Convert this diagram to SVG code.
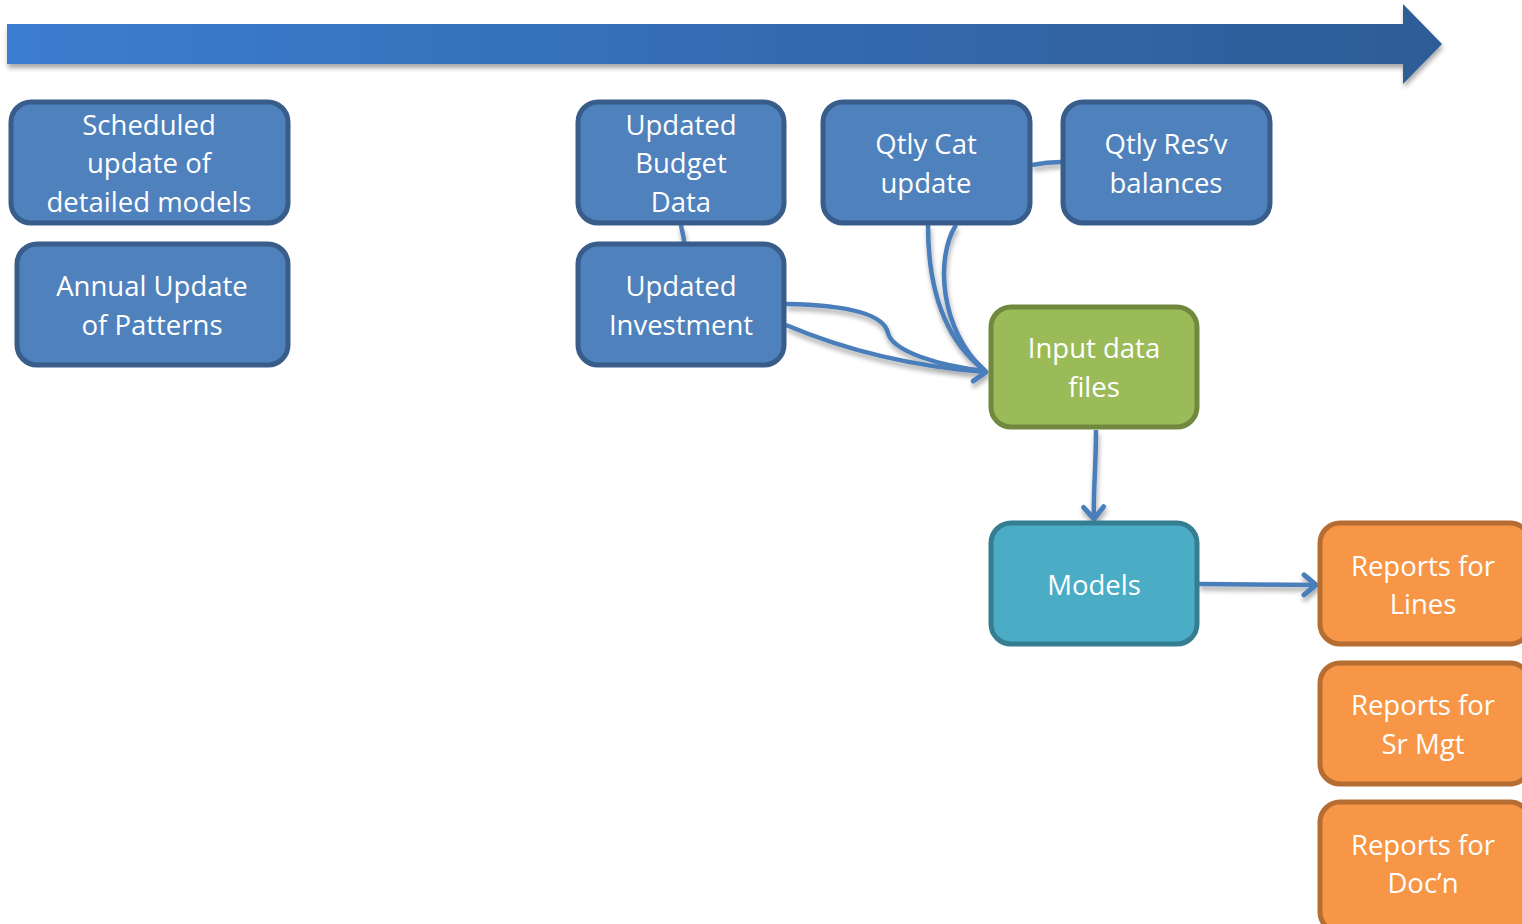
<svg xmlns="http://www.w3.org/2000/svg" width="1522" height="924" viewBox="0 0 1522 924">
<style>
.blue rect{fill:#4f81bd;stroke:#385d8a;stroke-width:5}
.green rect{fill:#9bbb59;stroke:#71893f;stroke-width:5}
.teal rect{fill:#4bacc6;stroke:#357d91;stroke-width:5}
.orange rect{fill:#f79646;stroke:#b66d31;stroke-width:5}
text{font-family:"Open Sans","Liberation Sans",sans-serif;font-size:27.5px;fill:#ffffff;text-anchor:middle}
.conn path{fill:none;stroke:#4a7ebb;stroke-width:4.5}
</style>
<defs>
<linearGradient id="g" x1="0" y1="0" x2="1" y2="0">
<stop offset="0" stop-color="#3b7dd0"/>
<stop offset="1" stop-color="#2d5c96"/>
</linearGradient>
<filter id="sh" filterUnits="userSpaceOnUse" x="0" y="0" width="1522" height="924">
<feGaussianBlur in="SourceAlpha" stdDeviation="2.5"/>
<feOffset dx="1" dy="4" result="b"/>
<feComponentTransfer><feFuncA type="linear" slope="0.35"/></feComponentTransfer>
<feMerge><feMergeNode/><feMergeNode in="SourceGraphic"/></feMerge>
</filter>
<marker id="ah" markerWidth="30" markerHeight="30" refX="15" refY="12" orient="auto" markerUnits="userSpaceOnUse" viewBox="0 0 30 24">
<path d="M3,2 L15,12 L3,22" fill="none" stroke="#4a7ebb" stroke-width="5" stroke-linecap="round" stroke-linejoin="round"/>
</marker>
</defs>
<rect width="1522" height="924" fill="#ffffff"/>
<g id="timeline" filter="url(#sh)">
<path d="M7,24 L1403,24 L1403,4 L1442,44 L1403,84 L1403,64 L7,64 Z" fill="url(#g)"/>
</g>
<g class="conn" id="connectors" filter="url(#sh)">
<path d="M681,225 C682,232 684,236 684,242"/>
<path d="M1032,165 C1042,163 1050,162 1061,162"/>
<path d="M786,304 C850,305 884,315 888,333 C893,352 940,366 986,371"/>
<path d="M786,325 C840,348 905,366 986,372" marker-end="url(#ah)"/>
<path d="M928,225 C928,290 945,340 984,370"/>
<path d="M956,225 C935,258 940,330 984,370"/>
<path d="M1096,430 C1096,470 1093,490 1094,519" marker-end="url(#ah)"/>
<path d="M1199,584 L1316,585" marker-end="url(#ah)"/>
</g>
<g id="scheduled" class="blue"><rect x="11" y="102" width="277" height="121" rx="20"/><text x="149" y="135">Scheduled</text><text x="149" y="173">update of</text><text x="149" y="212">detailed models</text></g>
<g id="annual" class="blue"><rect x="17" y="244" width="271" height="121" rx="20"/><text x="152" y="296">Annual Update</text><text x="152" y="335">of Patterns</text></g>
<g id="budget" class="blue"><rect x="578" y="102" width="206" height="121" rx="20"/><text x="681" y="135">Updated</text><text x="681" y="173">Budget</text><text x="681" y="212">Data</text></g>
<g id="investment" class="blue"><rect x="578" y="244" width="206" height="121" rx="20"/><text x="681" y="296">Updated</text><text x="681" y="335">Investment</text></g>
<g id="qtlycat" class="blue"><rect x="823" y="102" width="207" height="121" rx="20"/><text x="926" y="154">Qtly Cat</text><text x="926" y="193">update</text></g>
<g id="qtlyres" class="blue"><rect x="1063" y="102" width="207" height="121" rx="20"/><text x="1166" y="154">Qtly Res’v</text><text x="1166" y="193">balances</text></g>
<g id="input" class="green"><rect x="991" y="307" width="206" height="120" rx="20"/><text x="1094" y="358">Input data</text><text x="1094" y="397">files</text></g>
<g id="models" class="teal"><rect x="991" y="523" width="206" height="121" rx="20"/><text x="1094" y="595">Models</text></g>
<g id="rep-lines" class="orange"><rect x="1320" y="523" width="210" height="121" rx="20"/><text x="1423" y="576">Reports for</text><text x="1423" y="614">Lines</text></g>
<g id="rep-srmgt" class="orange"><rect x="1320" y="663" width="210" height="121" rx="20"/><text x="1423" y="715">Reports for</text><text x="1423" y="754">Sr Mgt</text></g>
<g id="rep-docn" class="orange"><rect x="1320" y="802" width="210" height="130" rx="20"/><text x="1423" y="855">Reports for</text><text x="1423" y="893">Doc’n</text></g>
</svg>
